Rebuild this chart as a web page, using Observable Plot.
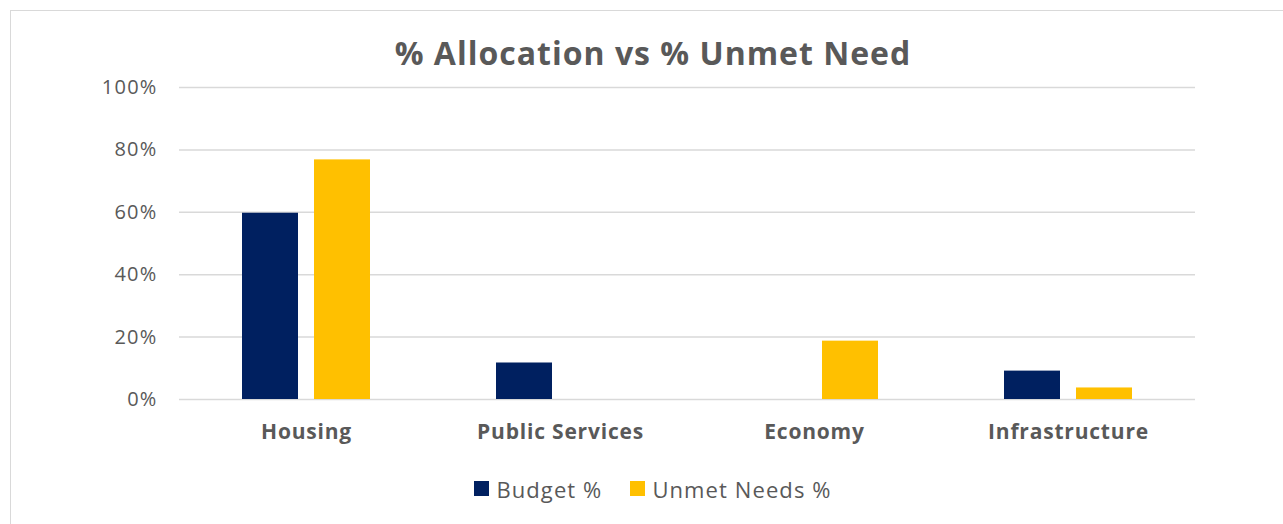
<!DOCTYPE html>
<html>
<head>
<meta charset="utf-8">
<script src="https://cdn.jsdelivr.net/npm/d3@7"></script>
<script src="https://cdn.jsdelivr.net/npm/@observablehq/plot@0.6"></script>
<style>
  html, body { margin: 0; padding: 0; background: #fff; width: 1283px; height: 524px; overflow: hidden; font-family: "Open Sans", Roboto, sans-serif; }
  #frame { position: absolute; left: 10px; top: 10px; width: 1300px; height: 540px; border: 1.5px solid #d9d9d9; box-sizing: border-box; }
  #title { position: absolute; left: 0; width: 1306px; top: 33px; text-align: center; font-weight: 700; font-size: 32px; letter-spacing: 1px; color: #595959; line-height: 40px; }
  #chart { position: absolute; left: 0; top: 0; }
  #legend { position: absolute; top: 474px; left: 0; width: 1306px; text-align: center; font-size: 22px; letter-spacing: 1.1px; color: #595959; line-height: 26px; }
  .li { display: inline-flex; align-items: center; margin: 0 14px; }
  .sw { width: 15px; height: 15px; display: inline-block; margin-right: 7px; }
  g[aria-label="y-axis tick label"] text { letter-spacing: 1.2px; }
  g[aria-label="fx-axis tick label"] text { letter-spacing: 0.8px; }
</style>
</head>
<body>
<div id="frame"></div>
<div id="title">% Allocation vs % Unmet Need</div>
<div id="chart"></div>
<div id="legend"></div>
<script>
const categories = ["Housing", "Public Services", "Economy", "Infrastructure"];
const seriesNames = ["Budget %", "Unmet Needs %"];
const budget = [59.7, 11.7, 0, 9.1];
const unmet = [76.8, 0, 18.7, 3.7];
const colors = ["#002060", "#FFC000"];
const yTicks = [0, 20, 40, 60, 80, 100];

const data = [];
categories.forEach((c, i) => {
  data.push({category: c, series: seriesNames[0], value: budget[i]});
  data.push({category: c, series: seriesNames[1], value: unmet[i]});
});

const plot = Plot.plot({
  width: 1283,
  height: 460,
  marginLeft: 179,
  marginRight: 88,
  marginTop: 87,
  marginBottom: 61,
  style: {fontFamily: "'Open Sans', Roboto, sans-serif", color: "#595959", background: "transparent"},
  fx: {domain: categories, padding: 0, label: null, axis: null},
  x: {domain: seriesNames, paddingInner: 0.22, paddingOuter: 0.869, axis: null},
  y: {domain: [0, 100], label: null},
  color: {domain: seriesNames, range: colors},
  marks: [
    Plot.gridY(yTicks, {stroke: "#d9d9d9", strokeOpacity: 1, strokeWidth: 1.5}),
    Plot.axisY({ticks: yTicks, tickFormat: d => d + "%", tickSize: 0, tickPadding: 22, fontSize: 20, label: null}),
    Plot.axisFx({anchor: "bottom", tickSize: 0, tickPadding: 25, fontSize: 21, fontWeight: "bold", label: null}),
    Plot.barY(data.filter(d => d.value > 0), {fx: "category", x: "series", y: "value", fill: "series"})
  ]
});
document.getElementById("chart").appendChild(plot);

const legend = document.getElementById("legend");
seriesNames.forEach((s, i) => {
  const span = document.createElement("span");
  span.className = "li";
  span.innerHTML = `<span class="sw" style="background:${colors[i]}"></span>${s}`;
  legend.appendChild(span);
});
</script>
</body>
</html>
